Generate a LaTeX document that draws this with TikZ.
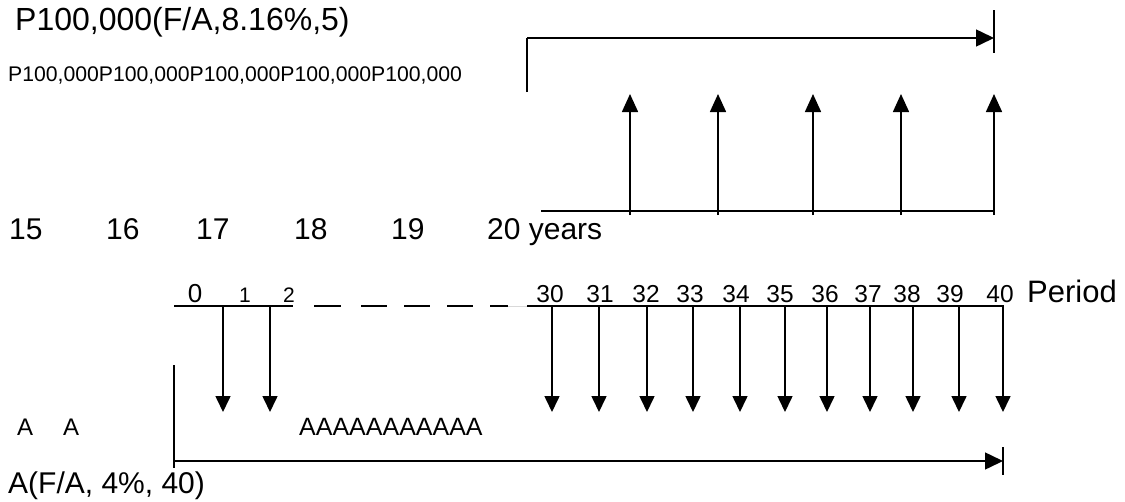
\documentclass[tikz,border=0pt]{standalone}
\usepackage{fontspec}
\setmainfont{Liberation Sans}
\usetikzlibrary{arrows.meta}
\begin{document}
\begin{tikzpicture}[x=1pt,y=-1pt,
  lbl/.style={anchor=base west, inner sep=0pt, font=\fontsize{#1}{#1}\selectfont},
  clbl/.style={anchor=base, inner sep=0pt, font=\fontsize{#1}{#1}\selectfont},
  axis/.style={line width=1.6pt},
  thinln/.style={line width=1.3pt},
  uparrow/.style={line width=1.6pt, -{Triangle[length=18pt,width=16pt]}},
  dnarrow/.style={line width=1.6pt, -{Triangle[length=16pt,width=15pt]}},
  brarrow/.style={line width=1.5pt, -{Triangle[length=18pt,width=17pt]}},
  dashseg/.style={line width=1.6pt}]
\useasboundingbox (0,0) rectangle (1125,501);

% ---- texts top
\node[lbl=32] (fa) at (15,30) {P100,000(F/A,8.16\%,5)};
\node[lbl=21.2] (pp) at (8,81) {P100,000P100,000P100,000P100,000P100,000};

% ---- top bracket
\coordinate (b0) at (527,92);
\coordinate (b1) at (527,38);
\coordinate (b2) at (994,38);
\coordinate (k1) at (994,10);
\coordinate (k2) at (994,53);
\draw[thinln] (b0) -- (b1);
\draw[brarrow] (b1) -- (b2);
\draw[thinln] (k1) -- (k2);

% ---- top time line
\coordinate (t0) at (541,211);
\coordinate (t5) at (994,211);
\draw[axis] (t0) -- (t5);
\foreach \x [count=\i] in {630,718,813,901,994}{
  \coordinate (ub\i) at (\x,215);
  \coordinate (ut\i) at (\x,94);
  \draw[uparrow] (ub\i) -- (ut\i);
}

% ---- years row
\foreach \x/\t [count=\i] in {9/15,106/16,196/17,294/18,391/19}{
  \node[lbl=30] (yr\i) at (\x,239) {\t};
}
\node[lbl=30] (yr6) at (487,239) {20 years};

% ---- period line
\coordinate (p0) at (174,306);
\coordinate (p2) at (293,306);
\draw[axis] (p0) -- (p2);
\foreach \a/\b [count=\i] in {314/341,361/387,404/430,447/473,490/508}{
  \coordinate (da\i) at (\a,306);
  \coordinate (db\i) at (\b,306);
  \draw[dashseg] (da\i) -- (db\i);
}
\coordinate (g0) at (508,306);
\coordinate (p30) at (527,306);
\draw[line width=1pt, black!15] (g0) -- (p30);
\coordinate (p40) at (1003,306);
\draw[axis] (p30) -- (p40);

\node[clbl=26] (l0) at (195,302) {0};
\node[clbl=21] (l1) at (245,302) {1};
\node[clbl=21] (l2) at (289,302) {2};
\foreach \x/\t in {550/30,600/31,646/32,690/33,736/34,780/35,825/36,868/37,907/38,950/39,1000/40}{
  \node[clbl=24.5] (l\t) at (\x,302) {\t};
}
\node[lbl=31] (per) at (1027,302) {Period};

\foreach \x [count=\i] in {223,270,552,599,647,693,740,785,827,870,913,959,1003}{
  \coordinate (ds\i) at (\x,305);
  \coordinate (de\i) at (\x,412);
  \draw[dnarrow] (ds\i) -- (de\i);
}

% ---- bottom
\node[lbl=24] (aa) at (17,435) {A\hspace{30pt}A};
\node[lbl=25] (am) at (299,435) {AAAAAAAAAAA};

\coordinate (v0) at (174,365);
\coordinate (v1) at (174,468);
\draw[thinln] (v0) -- (v1);
\coordinate (h0) at (174,461);
\coordinate (h1) at (1003,461);
\draw[brarrow] (h0) -- (h1);
\coordinate (q1) at (1003,447);
\coordinate (q2) at (1003,475);
\draw[thinln] (q1) -- (q2);

\node[lbl=30] (af) at (8,493) {A(F/A, 4\%, 40)};
\end{tikzpicture}
\end{document}
